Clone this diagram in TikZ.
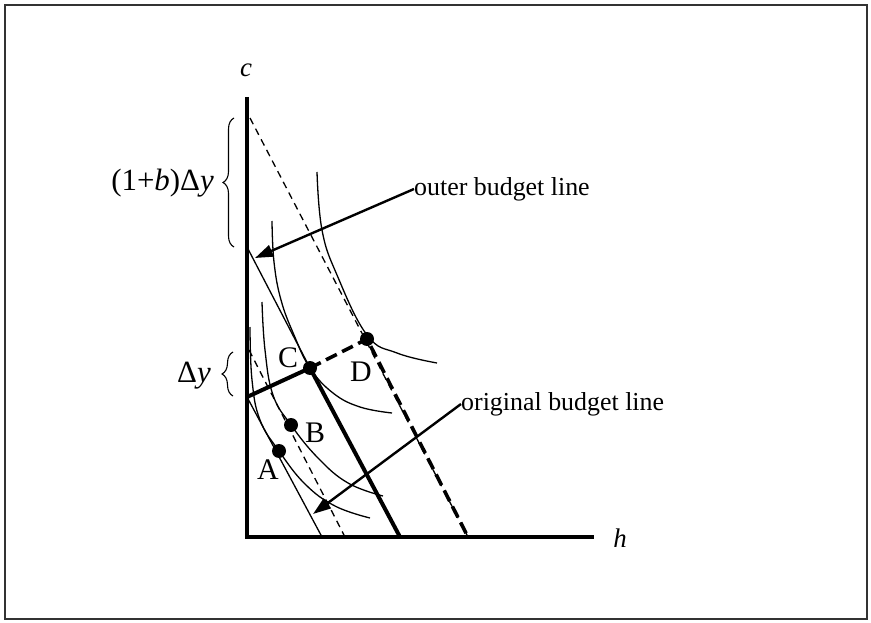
\documentclass[tikz,border=0pt]{standalone}
\usepackage{fontspec}
\setmainfont{Liberation Serif}
\usetikzlibrary{arrows.meta,decorations.pathreplacing}
\begin{document}
\begin{tikzpicture}[x=1bp,y=-1bp,
  thinln/.style={line width=1.3bp},
  thickln/.style={line width=4bp},
  axisln/.style={line width=4.2bp},
  thindash/.style={line width=1.3bp,dash pattern=on 7bp off 5bp},
  thickdash/.style={line width=3.6bp,dash pattern=on 12bp off 6bp},
  icurve/.style={line width=1.3bp},
  ptdot/.style={circle,fill=black,inner sep=0pt,minimum size=14bp},
  lbl/.style={inner sep=0pt,font=\fontsize{26}{30}\selectfont},
  ptlbl/.style={inner sep=0pt,font=\fontsize{30}{34}\selectfont},
  dlbl/.style={inner sep=0pt,font=\fontsize{31}{36}\selectfont},
  pointer/.style={line width=2.4bp,-{Triangle[length=18bp,width=12bp]}},
  bracesty/.style={decorate,decoration={brace,amplitude=11bp},line width=1.1bp}
]
\useasboundingbox (0,0) rectangle (871,623);
\draw[line width=1.6bp,black!80] (5,5) rectangle (867,619);

% key coordinates
\coordinate (O) at (247,537);
\coordinate (ctop) at (247,97);
\coordinate (hend) at (594,537);
\coordinate (y0) at (247,397);
\coordinate (y1) at (247,247);
\coordinate (dtop) at (250,118);
\coordinate (dbot) at (468,537);
\coordinate (origbot) at (322,537);
\coordinate (comptop) at (249,350);
\coordinate (compbot) at (345,537);
\coordinate (outerbot) at (400,537);

% indifference curves
\draw[icurve] plot[smooth,tension=0.7] coordinates {(250,327) (252,380) (260,420) (279,451) (305,484) (335,506) (370,518)};
\draw[icurve] plot[smooth,tension=0.7] coordinates {(262,302) (265,350) (273,395) (291,425) (318,458) (348,483) (383,496)};
\draw[icurve] plot[smooth,tension=0.7] coordinates {(272,221) (274,262) (281,300) (294,335) (310,368) (333,393) (360,407) (392,413)};
\draw[icurve] plot[smooth,tension=0.7] coordinates {(317,172) (322,230) (337,275) (367,335) (397,353) (437,363)};

% budget lines
\draw[thinln] (y0) -- (origbot);
\draw[thindash] (comptop) -- (compbot);
\draw[thindash] (dtop) -- (dbot);
\draw[thinln] (y1) -- (310,368);

% points
\node[ptdot] (A) at (279,451) {};
\node[ptdot] (B) at (291,425) {};
\node[ptdot] (C) at (310,368) {};
\node[ptdot] (D) at (367,339) {};

\draw[thickln] (y0) -- (C.center) -- (outerbot);
\draw[thickdash] (C.center) -- (D.center) -- (dbot);

% axes
\draw[axisln] (ctop) -- (O) -- (hend);

% labels
\node[lbl,font=\fontsize{27}{30}\selectfont\itshape] (clbl) at (246,70) {c};
\node[lbl,font=\fontsize{27}{30}\selectfont\itshape] (hlbl) at (620,538) {h};
\node[ptlbl] (Alb) at (268,470) {A};
\node[ptlbl] (Blb) at (315,433) {B};
\node[ptlbl] (Clb) at (288,358) {C};
\node[ptlbl] (Dlb) at (361,372) {D};

\node[lbl,anchor=west] (outerlbl) at (414,189) {outer budget line};
\node[lbl,anchor=west] (origlbl) at (461,404) {original budget line};
\coordinate (outertip) at (255,258);
\coordinate (origtip) at (313,514);
\draw[pointer] (outerlbl.west) -- (outertip);
\draw[pointer] (origlbl.west) -- (origtip);

% braces
\draw[bracesty] (234,247) -- (234,118);
\draw[bracesty] (233,396) -- (233,352);
\node[dlbl,anchor=east] (bigdy) at (214,183) {(1+\textit{b})Δ\textit{y}};
\node[dlbl,anchor=east] (smalldy) at (211,376) {Δ\textit{y}};
\end{tikzpicture}
\end{document}
